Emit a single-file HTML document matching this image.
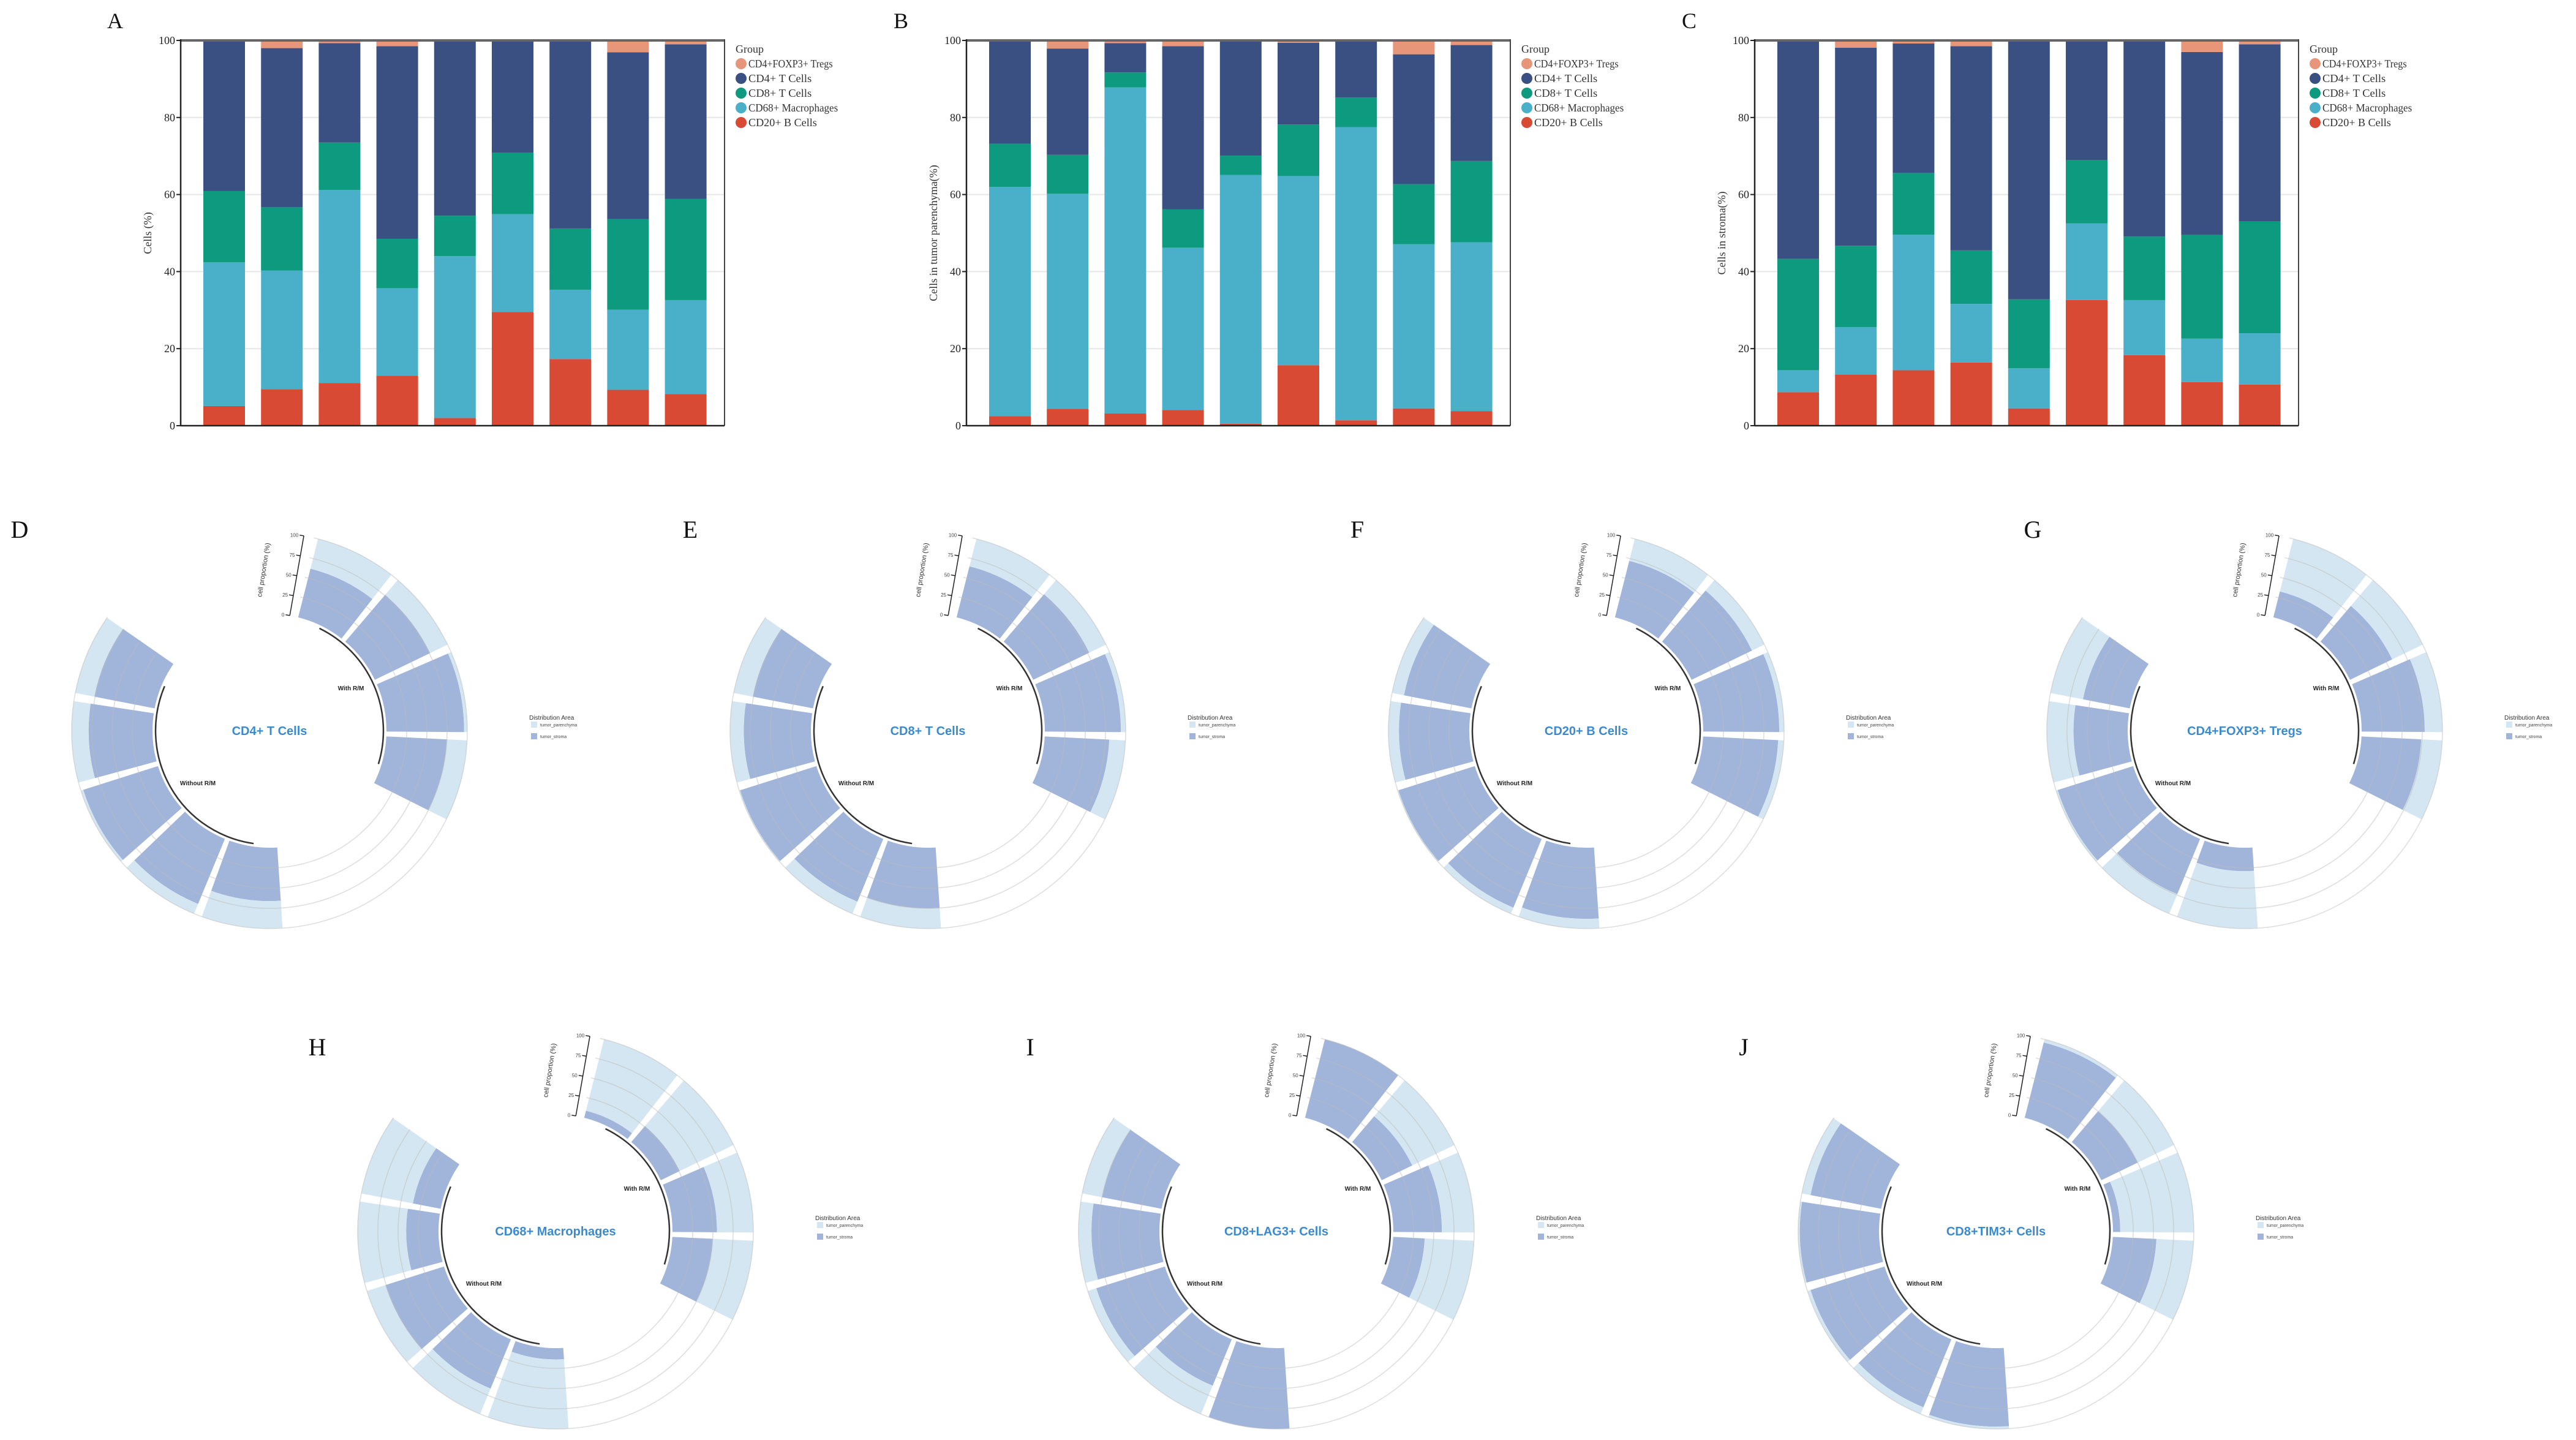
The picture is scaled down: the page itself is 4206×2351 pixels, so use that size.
<!DOCTYPE html>
<html><head><meta charset="utf-8"><title>Immune cell composition figure</title>
<style>
html,body{margin:0;padding:0;background:#fff;}
svg{display:block;}
</style></head>
<body>
<svg id="fig" xmlns="http://www.w3.org/2000/svg" width="4206" height="2351" viewBox="0 0 4206 2351">
<rect x="0" y="0" width="4206" height="2351" fill="#fff"/>
</svg>
<script>
// ---------- bar chart data (panels A, B, C) ----------
const barSamples = ["S1","S2","S3","S4","S5","S6","S7","S8","S9"];
const seriesNames = ["CD20+ B Cells","CD68+ Macrophages","CD8+ T Cells","CD4+ T Cells","CD4+FOXP3+ Tregs"];
const legendOrder = ["CD4+FOXP3+ Tregs","CD4+ T Cells","CD8+ T Cells","CD68+ Macrophages","CD20+ B Cells"];
const yTicks = [0,20,40,60,80,100];
// Panel A: Cells (%)
const aBcells = [5.1,9.5,11.1,13.0,2.0,29.5,17.3,9.3,8.2];
const aMacro  = [37.3,30.8,50.1,22.7,42.0,25.4,18.0,20.8,24.4];
const aCD8    = [18.5,16.4,12.3,12.8,10.5,16.0,15.9,23.5,26.3];
const aCD4    = [38.9,41.3,25.8,50.0,45.5,28.9,48.8,43.3,40.1];
// Panel B: Cells in tumor parenchyma (%)
const bBcells = [2.5,4.4,3.2,4.1,0.5,15.7,1.4,4.5,3.8];
const bMacro  = [59.5,55.8,84.6,42.1,64.6,49.1,76.1,42.6,43.8];
const bCD8    = [11.2,10.1,3.9,10.0,5.0,13.4,7.7,15.6,21.1];
const bCD4    = [26.5,27.6,7.6,42.3,29.9,21.2,14.8,33.7,30.1];
// Panel C: Cells in stroma (%)
const cBcells = [8.7,13.3,14.4,16.4,4.5,32.6,18.3,11.3,10.7];
const cMacro  = [5.7,12.3,35.2,15.2,10.4,19.9,14.3,11.3,13.3];
const cCD8    = [28.9,21.1,16.0,13.9,17.9,16.5,16.5,26.9,29.1];
const cCD4    = [56.6,51.4,33.6,53.0,67.2,30.7,50.9,47.5,45.9];

// ---------- circular chart data (panels D-J): tumor_stroma % per sample ----------
const groupNames = ["With R/M","Without R/M"];
const circTicks = [0,25,50,75,100];
const dStroma = [62,76,96,75,66,87,97,79,76];
const eStroma = [65,77,94,80,75,84,99,83,76];
const fStroma = [72,83,94,93,88,92,99,87,85];
const gStroma = [33,58,78,74,29,74,98,67,59];
const hStroma = [9,26,55,50,14,66,76,40,35];
const iStroma = [100,42,60,39,100,62,89,84,75];
const jStroma = [96,50,9,54,97,91,96,98,89];

const NS = "http://www.w3.org/2000/svg";
const svg = document.getElementById("fig");
function mk(tag, attrs, parent) {
  const e = document.createElementNS(NS, tag);
  for (const k in attrs) e.setAttribute(k, attrs[k]);
  (parent || svg).appendChild(e);
  return e;
}
const colors = {"CD20+ B Cells":"#d94a35","CD68+ Macrophages":"#4ab0c9","CD8+ T Cells":"#0d9a7e","CD4+ T Cells":"#3a4f82","CD4+FOXP3+ Tregs":"#e8967a"};
const serif = '"Liberation Serif", serif';
const sans = '"Liberation Sans", sans-serif';

function barChart(ox, letter, yTitle, bc, mac, cd8, cd4, key) {
  const g = mk("g", {});
  
  
  const left = ox + 295, right = ox + 1183, top = 66, bottom = 695;
  const yS = v => bottom - v / 100 * (bottom - top);
  const slot = 94.2, bw = 68, x0 = left + 37;
  const lab = mk("text", {x: ox + 188, y: 46, "font-family": serif, "font-size": 36, "text-anchor": "middle", fill: "#111"}, g);
  lab.textContent = letter;
  
  
  // grid
  yTicks.forEach(t => {
    if (t > 0 && t < 100) {
      const gl = mk("line", {x1: left, x2: right, y1: yS(t), y2: yS(t), stroke: "#e6e6e6", "stroke-width": 2}, g);
      
      
    }
  });
  // bars
  barSamples.forEach((s, i) => {
    const vals = [bc[i], mac[i], cd8[i], cd4[i]];
    const sum = vals.reduce((a, b) => a + b, 0);
    vals.push(Math.max(0, 100 - sum));
    let cum = 0;
    vals.forEach((v, k) => {
      const r = mk("rect", {x: x0 + i * slot, y: yS(cum + v), width: bw, height: yS(cum) - yS(cum + v), fill: colors[seriesNames[k]]}, g);
      
      
      cum += v;
    });
  });
  // axes
  mk("line", {x1: left, x2: right, y1: top, y2: top, stroke: "#666", "stroke-width": 4}, g);
  mk("line", {x1: right, x2: right, y1: top - 2, y2: bottom, stroke: "#444", "stroke-width": 2}, g);
  mk("line", {x1: left, x2: right, y1: bottom, y2: bottom, stroke: "#222", "stroke-width": 2.5}, g);
  const ax = mk("line", {x1: left, x2: left, y1: top - 2, y2: bottom + 1, stroke: "#222", "stroke-width": 2.5}, g);
  
  
  yTicks.forEach(t => {
    mk("line", {x1: left - 7, x2: left, y1: yS(t), y2: yS(t), stroke: "#222", "stroke-width": 2}, g);
    const tl = mk("text", {x: left - 9, y: yS(t) + 6, "font-family": serif, "font-size": 18, "text-anchor": "end", fill: "#222"}, g);
    tl.textContent = t;
    
    
  });
  const ty = (top + bottom) / 2;
  const yt = mk("text", {x: left - 48, y: ty, "font-family": serif, "font-size": 18, "text-anchor": "middle", fill: "#333", transform: `rotate(-90 ${left - 48} ${ty})`}, g);
  yt.textContent = yTitle;
  
  
  // legend
  const lx = ox + 1201;
  const lt = mk("text", {x: lx, y: 86, "font-family": serif, "font-size": 18, fill: "#333"}, g);
  lt.textContent = "Group";
  
  
  const ly = [104, 128, 152, 176, 200];
  legendOrder.forEach((n, k) => {
    const lg = mk("g", {}, g);
    
    
    mk("circle", {cx: lx + 9, cy: ly[k], r: 9, fill: colors[n]}, lg);
    const tx = mk("text", {x: lx + 21, y: ly[k] + 6, "font-family": serif, "font-size": 18, fill: "#333", textLength: n.length * 8.6, lengthAdjust: "spacingAndGlyphs"}, lg);
    tx.textContent = n;
  });
}
barChart(0, "A", "Cells (%)", aBcells, aMacro, aCD8, aCD4, "a");
barChart(1283, "B", "Cells in tumor parenchyma(%)", bBcells, bMacro, bCD8, bCD4, "b");
barChart(2570, "C", "Cells in stroma(%)", cBcells, cMacro, cCD8, cCD4, "c");

// ---------- circular charts ----------
const R0 = 191, R1 = 323;
function pt(cx, cy, r, deg) { const a = deg * Math.PI / 180; return [cx + r * Math.sin(a), cy - r * Math.cos(a)]; }
function sector(cx, cy, r0, r1, a0, a1) {
  const p1 = pt(cx, cy, r0, a0), p2 = pt(cx, cy, r1, a0), p3 = pt(cx, cy, r1, a1), p4 = pt(cx, cy, r0, a1);
  const lg = (a1 - a0) > 180 ? 1 : 0;
  return `M${p1[0]},${p1[1]} L${p2[0]},${p2[1]} A${r1},${r1} 0 ${lg} 1 ${p3[0]},${p3[1]} L${p4[0]},${p4[1]} A${r0},${r0} 0 ${lg} 0 ${p1[0]},${p1[1]} Z`;
}
function arcPath(cx, cy, r, a0, a1) {
  const p1 = pt(cx, cy, r, a0), p2 = pt(cx, cy, r, a1);
  const lg = (a1 - a0) > 180 ? 1 : 0;
  return `M${p1[0]},${p1[1]} A${r},${r} 0 ${lg} 1 ${p2[0]},${p2[1]}`;
}
const groupStart = [13, 175];
const groupSize = [4, 5];
const slotDeg = 26.2, gapDeg = 2.4;
function circChart(cx, cy, letter, lx, ly, title, stroma, key) {
  const g = mk("g", {});
  
  
  const rS = v => R0 + v / 100 * (R1 - R0);
  const lab = mk("text", {x: lx, y: ly + 14, "font-family": serif, "font-size": 40, "text-anchor": "middle", fill: "#111"}, g);
  lab.textContent = letter;
  
  
  // bars
  let idx = 0;
  groupStart.forEach((gs, gi) => {
    for (let j = 0; j < groupSize[gi]; j++) {
      const a0 = gs + j * slotDeg + gapDeg / 2, a1 = gs + (j + 1) * slotDeg - gapDeg / 2;
      const v = stroma[idx];
      const s = mk("path", {d: sector(cx, cy, R0, rS(v), a0, a1), fill: "#a1b4da"}, g);
      
      
      if (v < 100) {
        const p = mk("path", {d: sector(cx, cy, rS(v), R1, a0, a1), fill: "#d4e6f1"}, g);
        
        
      }
      idx++;
    }
  });
  // grid arcs
  circTicks.forEach(t => {
    if (t > 0) {
      const ga = mk("path", {d: arcPath(cx, cy, rS(t), 13, 305), fill: "none", stroke: "#bbb", "stroke-opacity": 0.5, "stroke-width": 1.5}, g);
      
      
    }
  });
  // group arcs + labels
  const garcs = [[26, 107], [188, 293]];
  garcs.forEach(([a0, a1], gi) => {
    const ar = mk("path", {d: arcPath(cx, cy, R0 - 5, a0, a1), fill: "none", stroke: "#333", "stroke-width": 2.5}, g);
    
    
  });
  const gl1 = mk("text", {x: cx + 133, y: cy - 66, "font-family": sans, "font-size": 10, "font-weight": "bold", "text-anchor": "middle", fill: "#222"}, g);
  gl1.textContent = groupNames[0];
  
  
  const gl2 = mk("text", {x: cx - 117, y: cy + 89, "font-family": sans, "font-size": 10, "font-weight": "bold", "text-anchor": "middle", fill: "#222"}, g);
  gl2.textContent = groupNames[1];
  
  
  // title
  const tt = mk("text", {x: cx, y: cy + 7, "font-family": sans, "font-size": 20, "font-weight": "bold", "text-anchor": "middle", fill: "#3a8ad0"}, g);
  tt.textContent = title;
  
  
  // radial axis at 10 deg
  const axA = 10;
  const pa = pt(cx, cy, R0, axA), pb = pt(cx, cy, R1, axA);
  const axl = mk("line", {x1: pa[0], y1: pa[1], x2: pb[0], y2: pb[1], stroke: "#222", "stroke-width": 1.5}, g);
  
  
  const ux = -Math.cos(axA * Math.PI / 180), uy = -Math.sin(axA * Math.PI / 180);
  circTicks.forEach(t => {
    const p = pt(cx, cy, rS(t), axA);
    mk("line", {x1: p[0], y1: p[1], x2: p[0] + ux * 7, y2: p[1] + uy * 7, stroke: "#222", "stroke-width": 1.5}, g);
    const tl = mk("text", {x: p[0] + ux * 9, y: p[1] + uy * 9 + 3, "font-family": sans, "font-size": 8, "text-anchor": "end", fill: "#444"}, g);
    tl.textContent = t;
    
    
  });
  const tx = cx - 6, ty = cy - 262;
  const at = mk("text", {x: tx, y: ty, "font-family": sans, "font-size": 11, "text-anchor": "middle", fill: "#333", transform: `rotate(-81 ${tx} ${ty})`}, g);
  at.textContent = "cell proportion (%)";
  
  
  // legend
  const lgx = cx + 424, lgy = cy - 22;
  const lt = mk("text", {x: lgx, y: lgy + 4, "font-family": sans, "font-size": 10, fill: "#333"}, g);
  lt.textContent = "Distribution Area";
  
  
  [["tumor_parenchyma", "#d4e6f1", 12], ["tumor_stroma", "#a1b4da", 31]].forEach(([n, c, dy]) => {
    const e = mk("g", {}, g);
    
    
    mk("rect", {x: lgx + 3, y: lgy + dy - 5, width: 10, height: 10, fill: c}, e);
    const et = mk("text", {x: lgx + 18, y: lgy + dy + 3, "font-family": sans, "font-size": 7, fill: "#444"}, e);
    et.textContent = n;
  });
}
circChart(440, 1193, "D", 32, 864, "CD4+ T Cells", dStroma, "d");
circChart(1515, 1193, "E", 1127, 864, "CD8+ T Cells", eStroma, "e");
circChart(2590, 1193, "F", 2216, 864, "CD20+ B Cells", fStroma, "f");
circChart(3665, 1193, "G", 3319, 864, "CD4+FOXP3+ Tregs", gStroma, "g");
circChart(907, 2010, "H", 518, 1709, "CD68+ Macrophages", hStroma, "h");
circChart(2084, 2010, "I", 1682, 1709, "CD8+LAG3+ Cells", iStroma, "i");
circChart(3259, 2010, "J", 2847, 1709, "CD8+TIM3+ Cells", jStroma, "j");
</script>
</body></html>
